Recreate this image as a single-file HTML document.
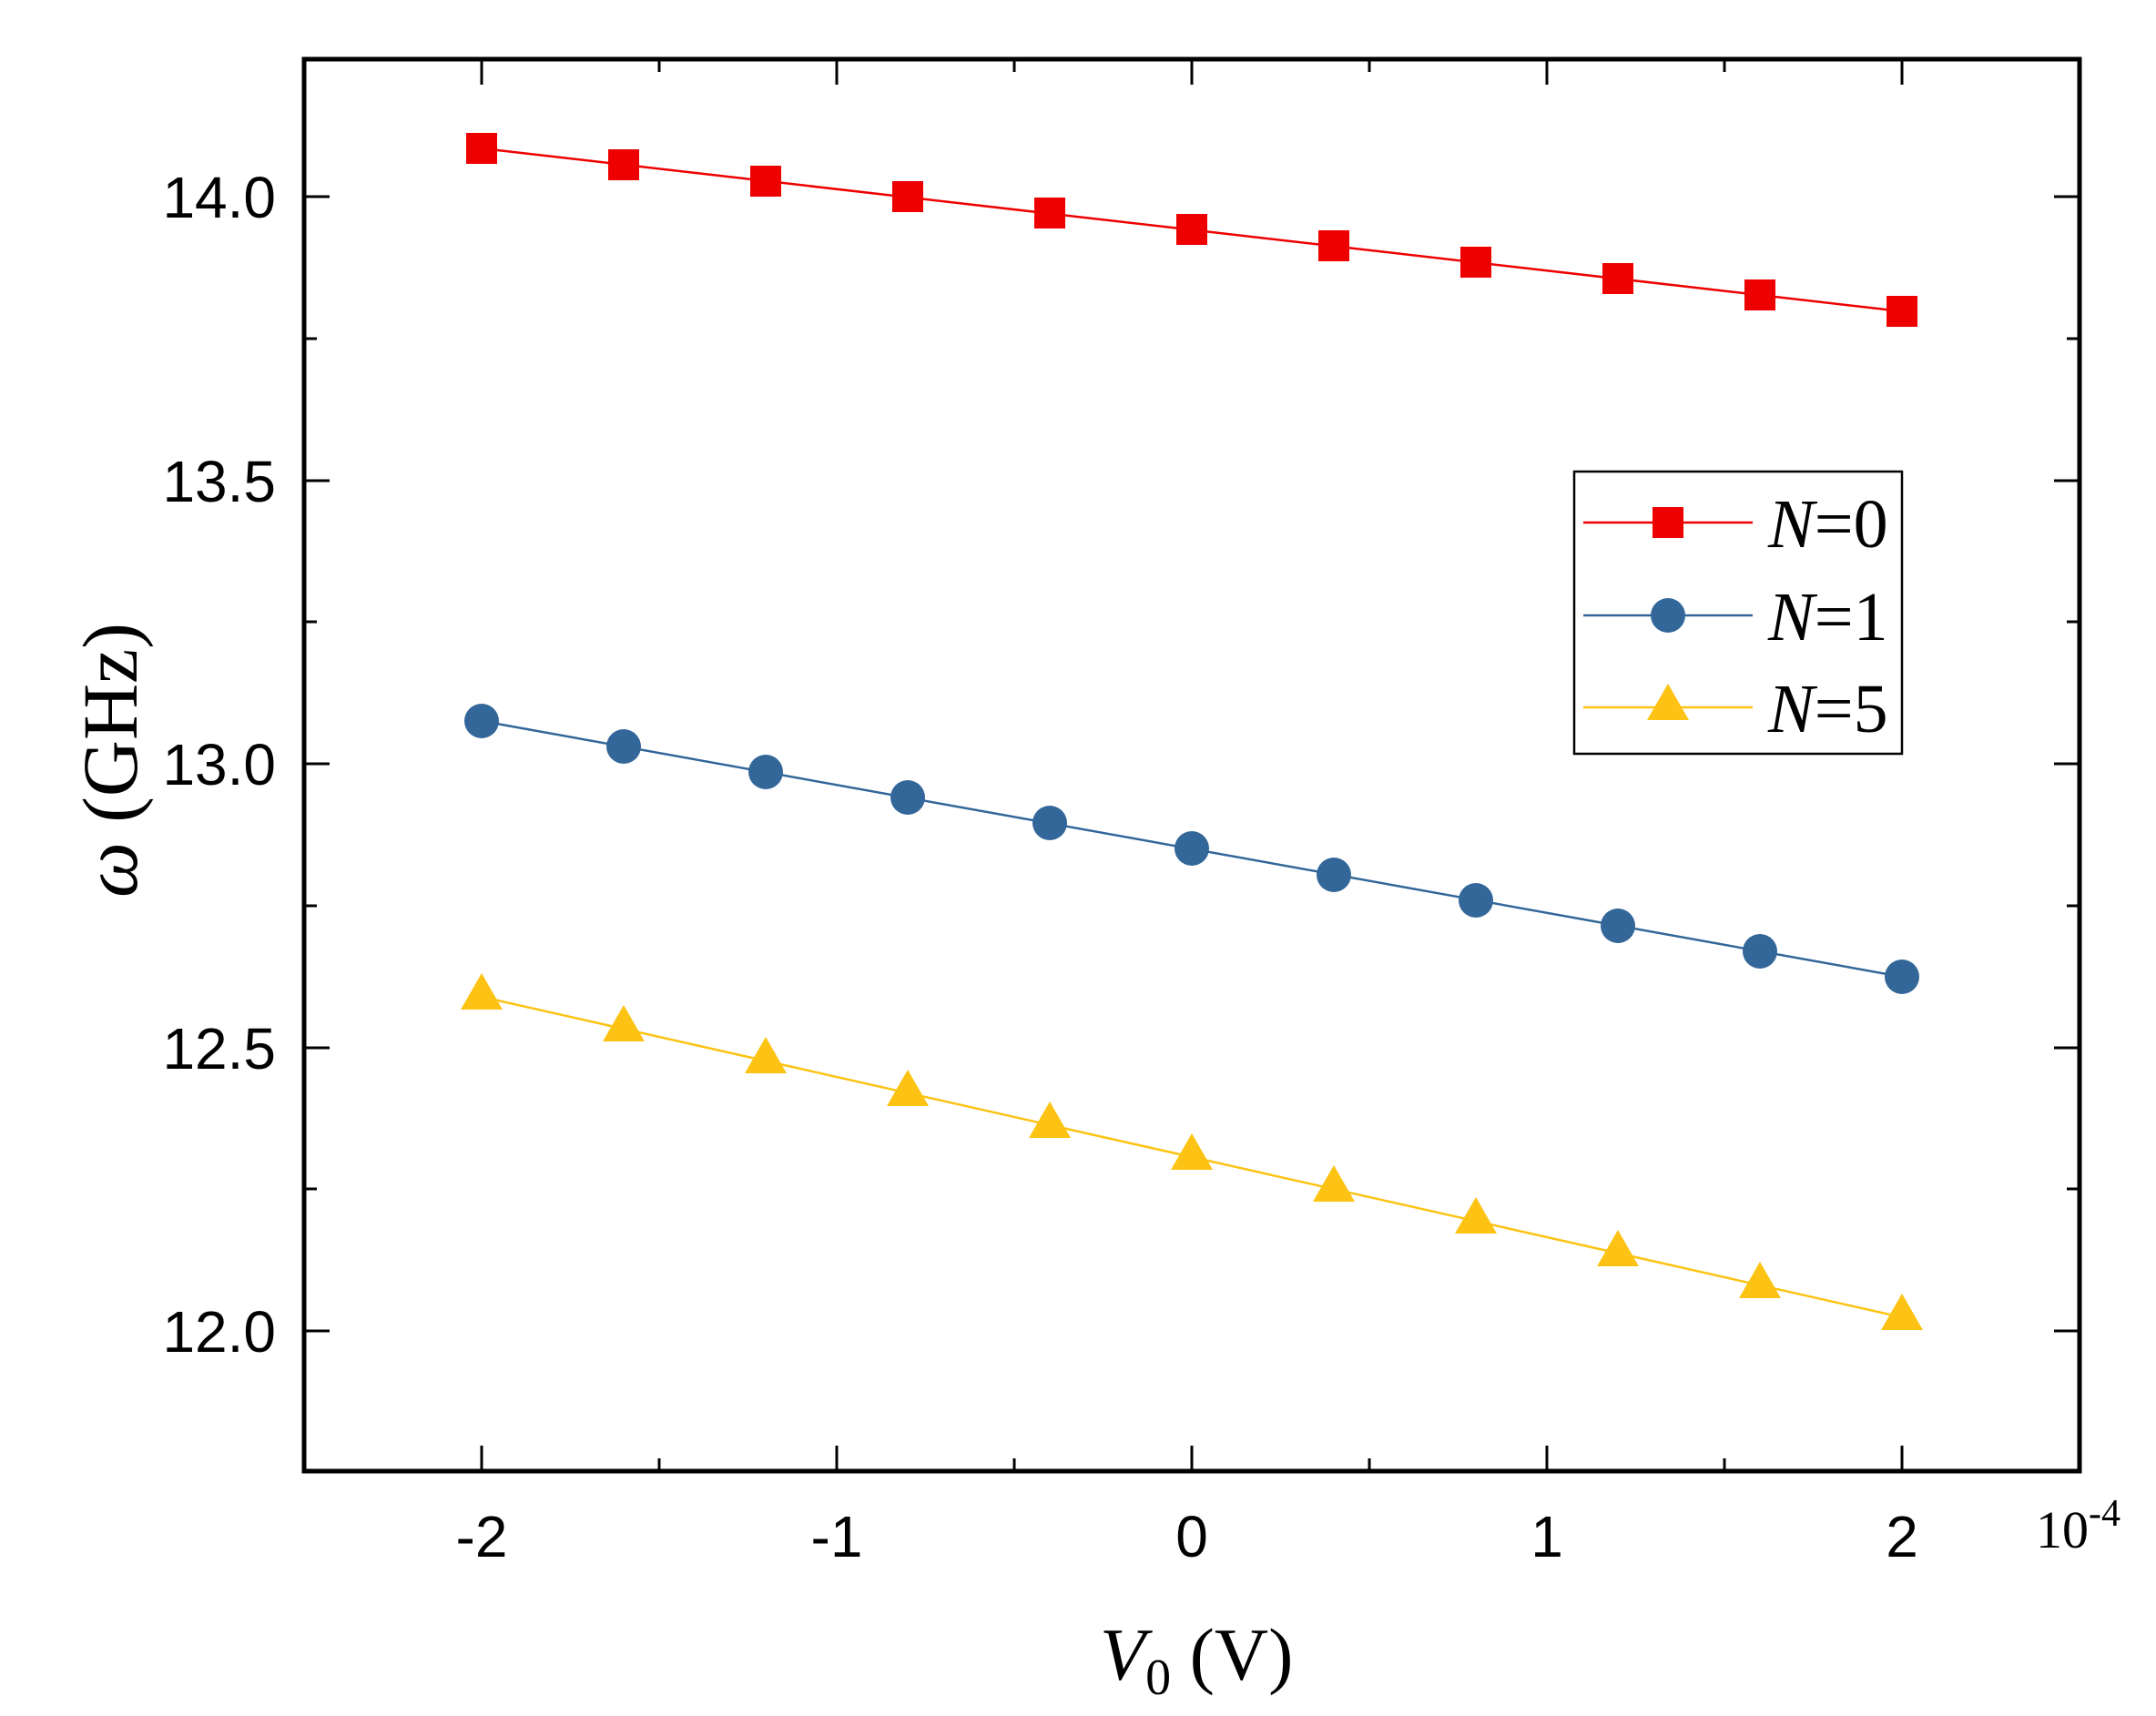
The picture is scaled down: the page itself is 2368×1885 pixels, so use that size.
<!DOCTYPE html>
<html><head><meta charset="utf-8"><style>body{margin:0;background:#fff}</style></head>
<body>
<svg width="2368" height="1880" viewBox="0 0 2368 1880" xmlns="http://www.w3.org/2000/svg">
<rect width="2368" height="1880" fill="#fff"/>
<g stroke="#000" stroke-width="3">
<path d="M529 1616v-28M724 1616v-14M919 1616v-28M1114 1616v-14M1309 1616v-28M1504 1616v-14M1699 1616v-28M1894 1616v-14M2089 1616v-28"/>
<path d="M529 65v28M724 65v14M919 65v28M1114 65v14M1309 65v28M1504 65v14M1699 65v28M1894 65v14M2089 65v28"/>
<path d="M334 1462h28M334 1306h14M334 1151h28M334 995h14M334 839h28M334 683h14M334 528h28M334 372h14M334 216h28"/>
<path d="M2284 1462h-28M2284 1306h-14M2284 1151h-28M2284 995h-14M2284 839h-28M2284 683h-14M2284 528h-28M2284 372h-14M2284 216h-28"/>
</g>
<rect x="334" y="65" width="1950" height="1551" fill="none" stroke="#000" stroke-width="5"/>
<g font-family="Liberation Sans, sans-serif" font-size="64" text-anchor="middle">
<text x="529" y="1710">-2</text><text x="919" y="1710">-1</text><text x="1309" y="1710">0</text><text x="1699" y="1710">1</text><text x="2089" y="1710">2</text>
</g>
<g font-family="Liberation Sans, sans-serif" font-size="64" text-anchor="end">
<text x="303" y="1485">12.0</text><text x="303" y="1174">12.5</text><text x="303" y="862">13.0</text><text x="303" y="551">13.5</text><text x="303" y="239">14.0</text>
</g>
<text x="2236" y="1700" font-family="Liberation Serif, serif" font-size="58">10<tspan dy="-24" font-size="42">-4</tspan></text>
<text x="1208" y="1845" font-family="Liberation Serif, serif" font-size="82"><tspan font-style="italic">V</tspan><tspan font-size="56" dy="16">0</tspan><tspan dy="-16"> (V)</tspan></text>
<text transform="translate(150 835) rotate(-90)" text-anchor="middle" font-family="Liberation Serif, serif" font-size="86"><tspan font-style="italic">ω</tspan>  (GHz)</text>

<polyline fill="none" stroke="#ee0000" stroke-width="2.5" points="529,163 2089,342"/>
<polyline fill="none" stroke="#336699" stroke-width="2.5" points="529,792 2089,1073"/>
<polyline fill="none" stroke="#fdc314" stroke-width="2.5" points="529,1095 2089,1447"/>
<g fill="#ee0000">
<rect x="512" y="146" width="34" height="34"/><rect x="668" y="164" width="34" height="34"/><rect x="824" y="182" width="34" height="34"/><rect x="980" y="199" width="34" height="34"/><rect x="1136" y="217" width="34" height="34"/><rect x="1292" y="235" width="34" height="34"/><rect x="1448" y="253" width="34" height="34"/><rect x="1604" y="271" width="34" height="34"/><rect x="1760" y="289" width="34" height="34"/><rect x="1916" y="307" width="34" height="34"/><rect x="2072" y="325" width="34" height="34"/>
</g>
<g fill="#336699">
<circle cx="529" cy="792" r="19"/><circle cx="685" cy="820" r="19"/><circle cx="841" cy="848" r="19"/><circle cx="997" cy="876" r="19"/><circle cx="1153" cy="904" r="19"/><circle cx="1309" cy="932" r="19"/><circle cx="1465" cy="961" r="19"/><circle cx="1621" cy="989" r="19"/><circle cx="1777" cy="1017" r="19"/><circle cx="1933" cy="1045" r="19"/><circle cx="2089" cy="1073" r="19"/>
</g>
<g fill="#fdc314">
<path d="M529 1069l23 40h-46z"/><path d="M685 1104l23 40h-46z"/><path d="M841 1139l23 40h-46z"/><path d="M997 1175l23 40h-46z"/><path d="M1153 1210l23 40h-46z"/><path d="M1309 1245l23 40h-46z"/><path d="M1465 1280l23 40h-46z"/><path d="M1621 1315l23 40h-46z"/><path d="M1777 1351l23 40h-46z"/><path d="M1933 1386l23 40h-46z"/><path d="M2089 1421l23 40h-46z"/>
</g>
<rect x="1729" y="518" width="360" height="310" fill="#fff" stroke="#000" stroke-width="2.5"/>
<line x1="1739" y1="574" x2="1925" y2="574" stroke="#ee0000" stroke-width="2.5"/>
<rect x="1815" y="557" width="34" height="34" fill="#ee0000"/>
<line x1="1739" y1="676" x2="1925" y2="676" stroke="#336699" stroke-width="2.5"/>
<circle cx="1832" cy="676" r="19" fill="#336699"/>
<line x1="1739" y1="777" x2="1925" y2="777" stroke="#fdc314" stroke-width="2.5"/>
<path d="M1832 751l23 40h-46z" fill="#fdc314"/>
<g font-family="Liberation Serif, serif" font-size="76">
<text x="1942" y="601"><tspan font-style="italic">N</tspan>=0</text>
<text x="1942" y="703"><tspan font-style="italic">N</tspan>=1</text>
<text x="1942" y="804"><tspan font-style="italic">N</tspan>=5</text>
</g>
</svg>
</body></html>
